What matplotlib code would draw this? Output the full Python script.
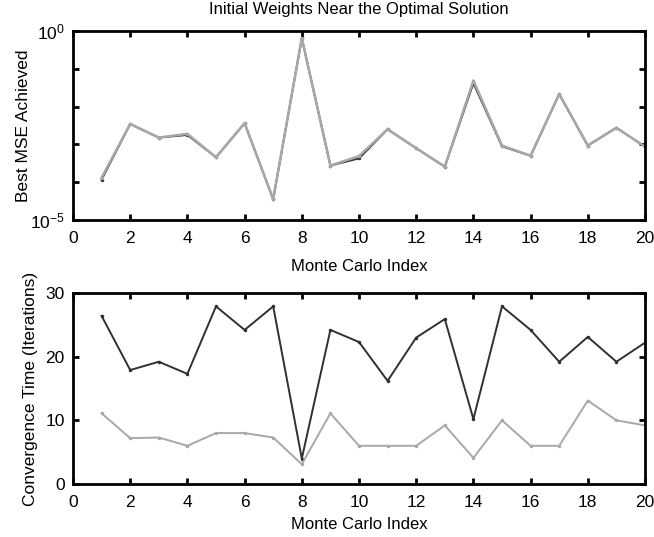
import numpy as np
import matplotlib
matplotlib.use('Agg')
import matplotlib.pyplot as plt
from matplotlib.ticker import FixedLocator, FixedFormatter

plt.rcParams['font.family'] = ['Liberation Sans', 'DejaVu Sans']
plt.rcParams['mathtext.fontset'] = 'custom'
plt.rcParams['mathtext.rm'] = 'Liberation Sans'
plt.rcParams['mathtext.it'] = 'Liberation Sans'

# Monte Carlo runs
mc_index = np.arange(1, 21)

# best MSE (log10) for the two runs, nearly identical
log_mse_dark = [-3.93, -2.46, -2.82, -2.75, -3.34, -2.44, -4.45, -0.19, -3.56, -3.37,
                -2.60, -3.10, -3.59, -1.38, -3.05, -3.30, -1.67, -3.03, -2.56, -3.06]
log_mse_light = [-3.88, -2.46, -2.82, -2.72, -3.34, -2.44, -4.45, -0.19, -3.56, -3.31,
                 -2.60, -3.10, -3.59, -1.31, -3.03, -3.30, -1.67, -3.03, -2.56, -3.06]

# convergence time in iterations
conv_dark = [26.4, 17.9, 19.2, 17.3, 27.9, 24.2, 27.9, 4.0, 24.2, 22.3,
             16.2, 23.0, 25.9, 10.2, 27.9, 24.2, 19.2, 23.1, 19.2, 22.2]
conv_light = [11.1, 7.2, 7.3, 6.0, 8.0, 8.0, 7.3, 3.1, 11.1, 6.0,
              6.0, 6.0, 9.2, 4.1, 10.0, 6.0, 6.0, 13.1, 10.0, 9.2]

W, H = 654, 537
fig = plt.figure(figsize=(W / 100, H / 100), dpi=100)

ax1 = fig.add_axes([73 / W, 1 - 220 / H, 572 / W, 189 / H])
ax2 = fig.add_axes([73 / W, 1 - 484 / H, 572 / W, 191 / H])

dark = '#303030'
light = '#a8a8a8'

ax1.semilogy(mc_index, 10.0 ** np.array(log_mse_dark), color=dark, lw=1.4,
             marker='.', ms=3)
ax1.semilogy(mc_index, 10.0 ** np.array(log_mse_light), color=light, lw=1.8,
             marker='.', ms=3)
ax1.set_ylim(1e-5, 1)
ax1.yaxis.set_major_locator(FixedLocator([1e-5, 1e-4, 1e-3, 1e-2, 1e-1, 1e0]))
ax1.yaxis.set_major_formatter(FixedFormatter(['$10^{-5}$', '', '', '', '', '$10^{0}$']))
ax1.yaxis.set_minor_locator(FixedLocator([]))
ax1.set_ylabel('Best MSE Achieved', fontsize=12.5, labelpad=-1)
ax1.set_title('Initial Weights Near the Optimal Solution', fontsize=12, pad=12)
ax1.set_xlabel('Monte Carlo Index', fontsize=12, labelpad=9)

ax2.plot(mc_index, conv_dark, color=dark, lw=1.4, marker='.', ms=3)
ax2.plot(mc_index, conv_light, color=light, lw=1.4, marker='.', ms=3)
ax2.set_ylim(0, 30)
ax2.set_yticks([0, 10, 20, 30])
ax2.set_ylabel('Convergence Time (Iterations)', fontsize=12.5, labelpad=5)
ax2.set_xlabel('Monte Carlo Index', fontsize=12, labelpad=5)

for ax in (ax1, ax2):
    ax.set_xlim(0, 20)
    ax.set_xticks(range(0, 21, 2))
    ax.tick_params(direction='in', top=True, right=True, length=4, width=2,
                   labelsize=12.5)
    ax.tick_params(axis='x', pad=8)
    ax.tick_params(axis='y', pad=6)
    for s in ax.spines.values():
        s.set_linewidth(2)

fig.savefig('out.png', dpi=100)
